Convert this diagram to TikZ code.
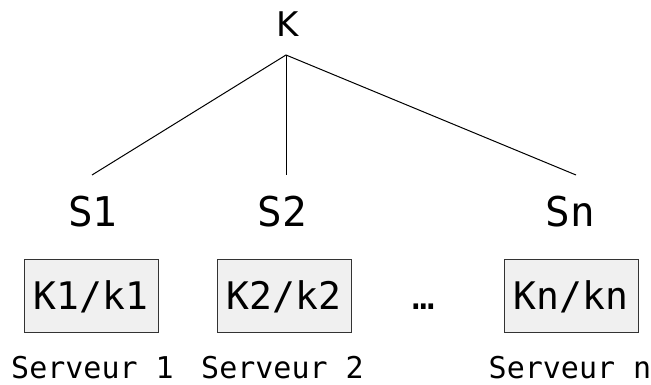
\documentclass[tikz,border=0pt]{standalone}
\usepackage{fontspec}
\setmainfont{DejaVu Sans}
\newfontfamily\monof{DejaVu Sans Mono}
\begin{document}
\begin{tikzpicture}[x=1pt,y=-1pt,
  lbl/.style={font=\monof\fontsize{41}{41}\selectfont, anchor=base, inner sep=0pt},
  srv/.style={font=\monof\fontsize{30}{30}\selectfont, anchor=base, inner sep=0pt},
  keybox/.style={draw=black!80, fill=black!6, line width=1pt, minimum width=134pt, minimum height=73pt,
    inner sep=0pt, text height=27pt, text depth=0pt, font=\monof\fontsize{38}{38}\selectfont},
  conn/.style={line width=1pt}]
\useasboundingbox (0,0) rectangle (651,385);
\node[font=\fontsize{34}{34}\selectfont, anchor=base, inner sep=0pt] (K) at (288,37) {K};
\coordinate (top) at (286,55);
\coordinate (e1) at (92,175);
\coordinate (e2) at (286,175);
\coordinate (en) at (576,175);
\draw[conn] (e1) -- (top) -- (en);
\draw[conn] (top) -- (e2);
\node[lbl] (s1) at (93,226) {S1};
\node[lbl] (s2) at (282,226) {S2};
\node[lbl] (sn) at (570,226) {Sn};
\node[keybox] (b1) at (91,295.5) {K1/k1};
\node[keybox] (b2) at (284,295.5) {K2/k2};
\node[keybox] (bn) at (571,295.5) {Kn/kn};
\node[font=\monof\fontsize{37.5}{37.5}\selectfont, anchor=base, inner sep=0pt] (dots) at (424,309) {…};
\node[srv] (v1) at (92.5,378) {Serveur 1};
\node[srv] (v2) at (282.5,378) {Serveur 2};
\node[srv] (vn) at (570,378) {Serveur n};
\end{tikzpicture}
\end{document}
